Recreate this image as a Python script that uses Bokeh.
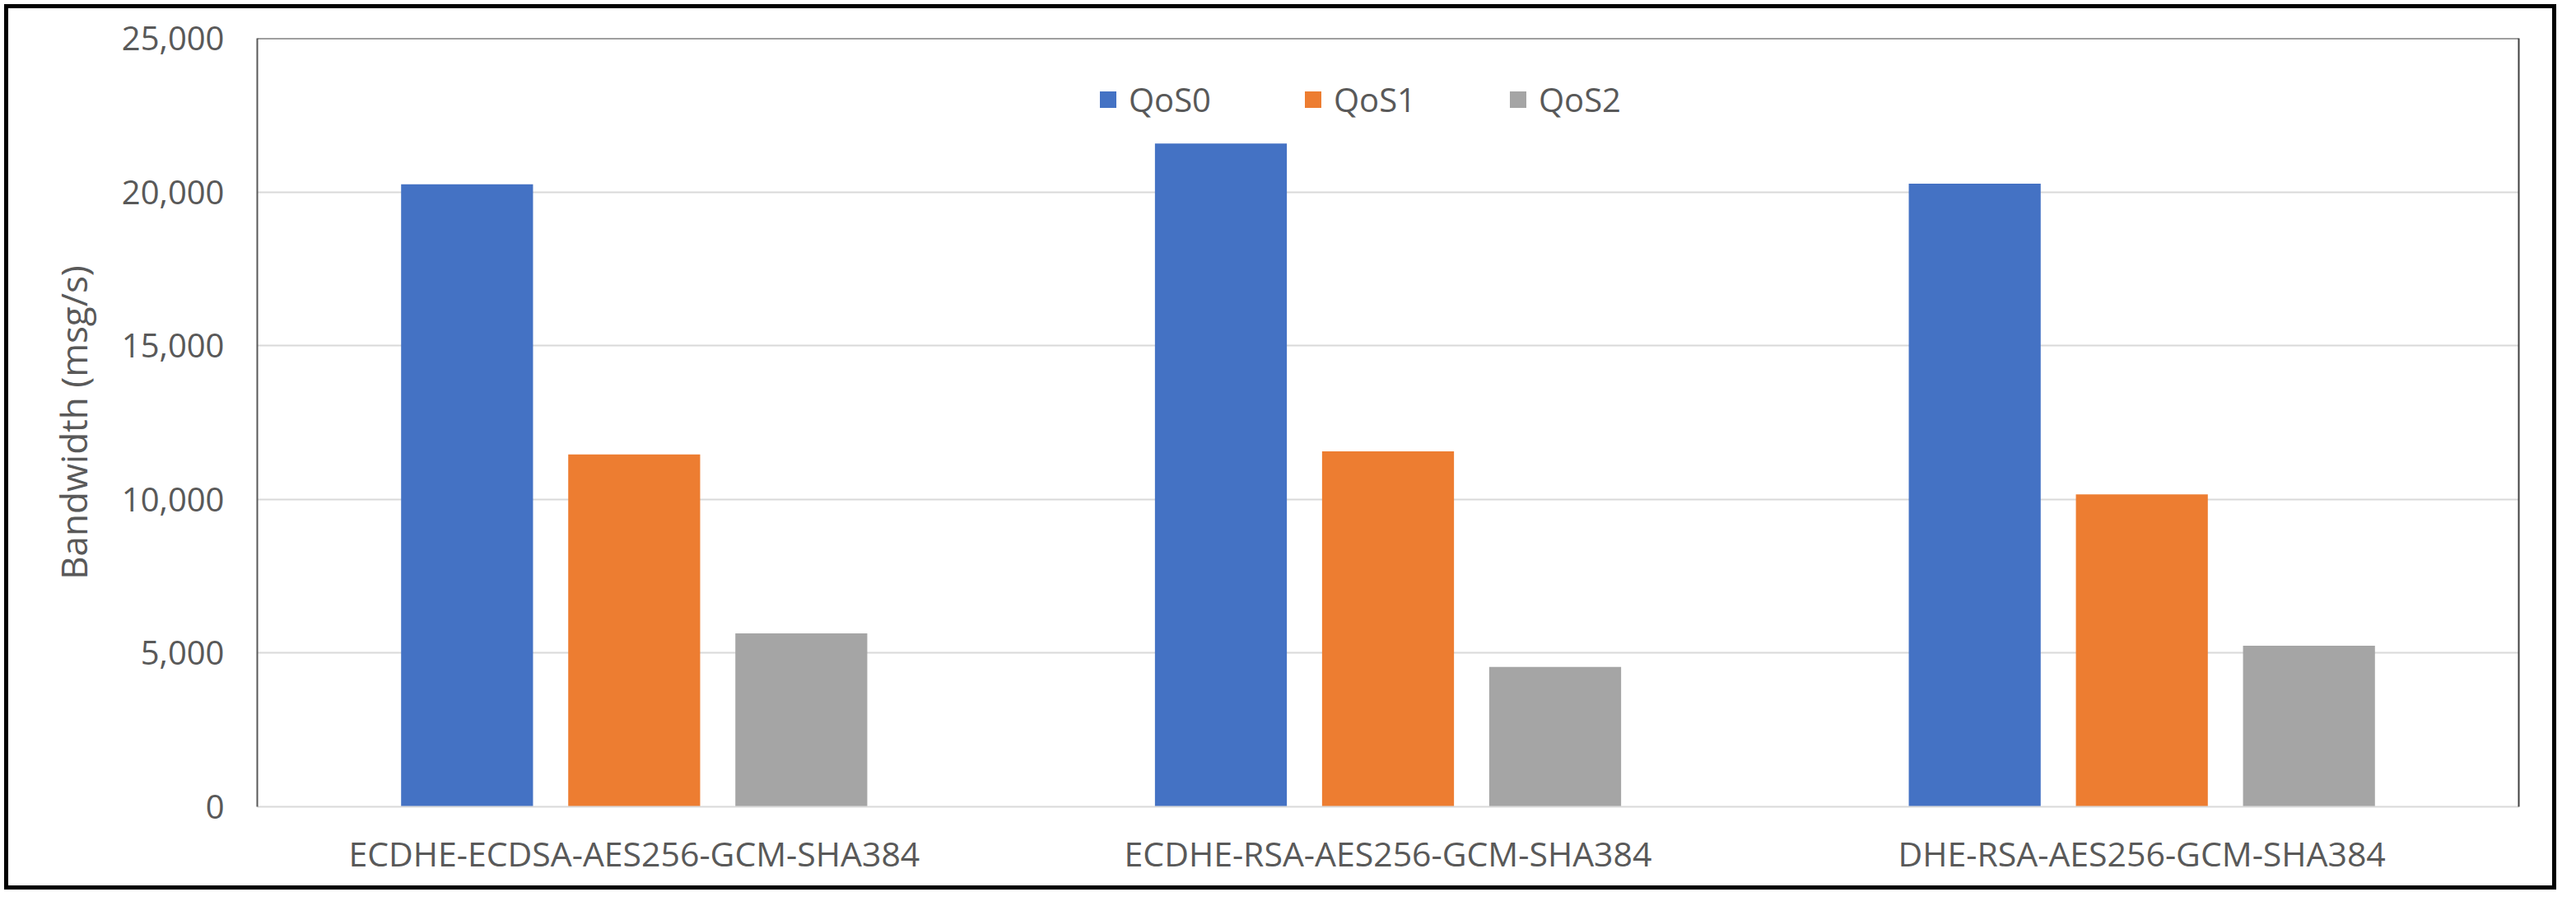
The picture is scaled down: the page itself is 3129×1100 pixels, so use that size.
from bokeh.plotting import figure
from bokeh.models import (FactorRange, Range1d, Legend, LegendItem, NumeralTickFormatter,
                          FixedTicker, LinearAxis, ColumnDataSource, Span)
from bokeh.transform import dodge
from bokeh.embed import file_html
from bokeh.resources import INLINE

# ---- data ----
categories = ["ECDHE-ECDSA-AES256-GCM-SHA384", "ECDHE-RSA-AES256-GCM-SHA384", "DHE-RSA-AES256-GCM-SHA384"]
series_names = ["QoS0", "QoS1", "QoS2"]
qos0 = [20250, 21580, 20270]
qos1 = [11460, 11560, 10160]
qos2 = [5640, 4550, 5240]
y_ticks = [0, 5000, 10000, 15000, 20000, 25000]
y_title = "Bandwidth (msg/s)"

colors = ["#4472C4", "#ED7D31", "#A5A5A5"]
FONT = "Open Sans"
TXT = "#595959"

source = ColumnDataSource(dict(cat=categories, QoS0=qos0, QoS1=qos1, QoS2=qos2))

W, H = 3100, 1075
p = figure(x_range=FactorRange(factors=categories), y_range=Range1d(0, y_ticks[-1]),
           width=W, height=H, output_backend="svg", toolbar_location=None,
           min_border_left=302, min_border_right=51, min_border_top=36, min_border_bottom=106)
p.x_range.range_padding = 0
p.background_fill_color = "white"
p.border_fill_color = "white"
p.outline_line_color = None

offsets = [-0.2217, 0.0, 0.2217]
renderers = []
for name, off, col in zip(series_names, offsets, colors):
    r = p.vbar(x=dodge("cat", off, range=p.x_range), top=name, width=0.175, source=source,
               fill_color=col, line_color=None)
    renderers.append(r)

# grid
p.xgrid.grid_line_color = None
p.ygrid.grid_line_color = "#d9d9d9"
p.ygrid.grid_line_width = 2

# y axis
p.yaxis.ticker = FixedTicker(ticks=y_ticks)
p.yaxis.formatter = NumeralTickFormatter(format="0,0")
p.yaxis.major_label_text_font = FONT
p.yaxis.major_label_text_font_size = "40px"
p.yaxis.major_label_text_color = TXT
p.yaxis.major_tick_line_color = None
p.yaxis.minor_tick_line_color = None
p.yaxis.major_tick_out = 0
p.yaxis.major_tick_in = 0
p.yaxis.major_label_standoff = 40
p.yaxis.axis_line_color = "#595959"
p.yaxis.axis_line_width = 2
p.yaxis.axis_label = y_title
p.yaxis.axis_label_text_font = FONT
p.yaxis.axis_label_text_font_size = "44px"
p.yaxis.axis_label_text_font_style = "normal"
p.yaxis.axis_label_text_color = TXT
p.yaxis.axis_label_standoff = 26

# x axis
p.xaxis.major_label_text_font = FONT
p.xaxis.major_label_text_font_size = "41px"
p.xaxis.major_label_text_color = TXT
p.xaxis.major_tick_line_color = None
p.xaxis.major_tick_out = 0
p.xaxis.major_tick_in = 0
p.xaxis.major_label_standoff = 28
p.xaxis.axis_line_color = "#d9d9d9"
p.xaxis.axis_line_width = 2

# plot-area border on top and right
p.add_layout(Span(location=y_ticks[-1], dimension="width", line_color="#404040", line_width=2))
right_ax = LinearAxis(ticker=FixedTicker(ticks=[]), major_tick_line_color=None,
                      minor_tick_line_color=None, major_tick_out=0,
                      axis_line_color="#404040", axis_line_width=2, major_label_standoff=0)
p.add_layout(right_ax, "right")

# legend
items = [LegendItem(label=n, renderers=[r]) for n, r in zip(series_names, renderers)]
legend = Legend(items=items, orientation="horizontal", location=(1021, 831),
                label_text_font=FONT, label_text_font_size="40px", label_text_color=TXT,
                glyph_width=25, glyph_height=25, label_standoff=13, spacing=111,
                padding=0, margin=0, border_line_color=None, background_fill_alpha=0)
p.add_layout(legend, "center")

p.styles = {"border": "5px solid black", "transform": "translate(5px, 5px)"}

open("out.html", "w").write(file_html(p, INLINE))
